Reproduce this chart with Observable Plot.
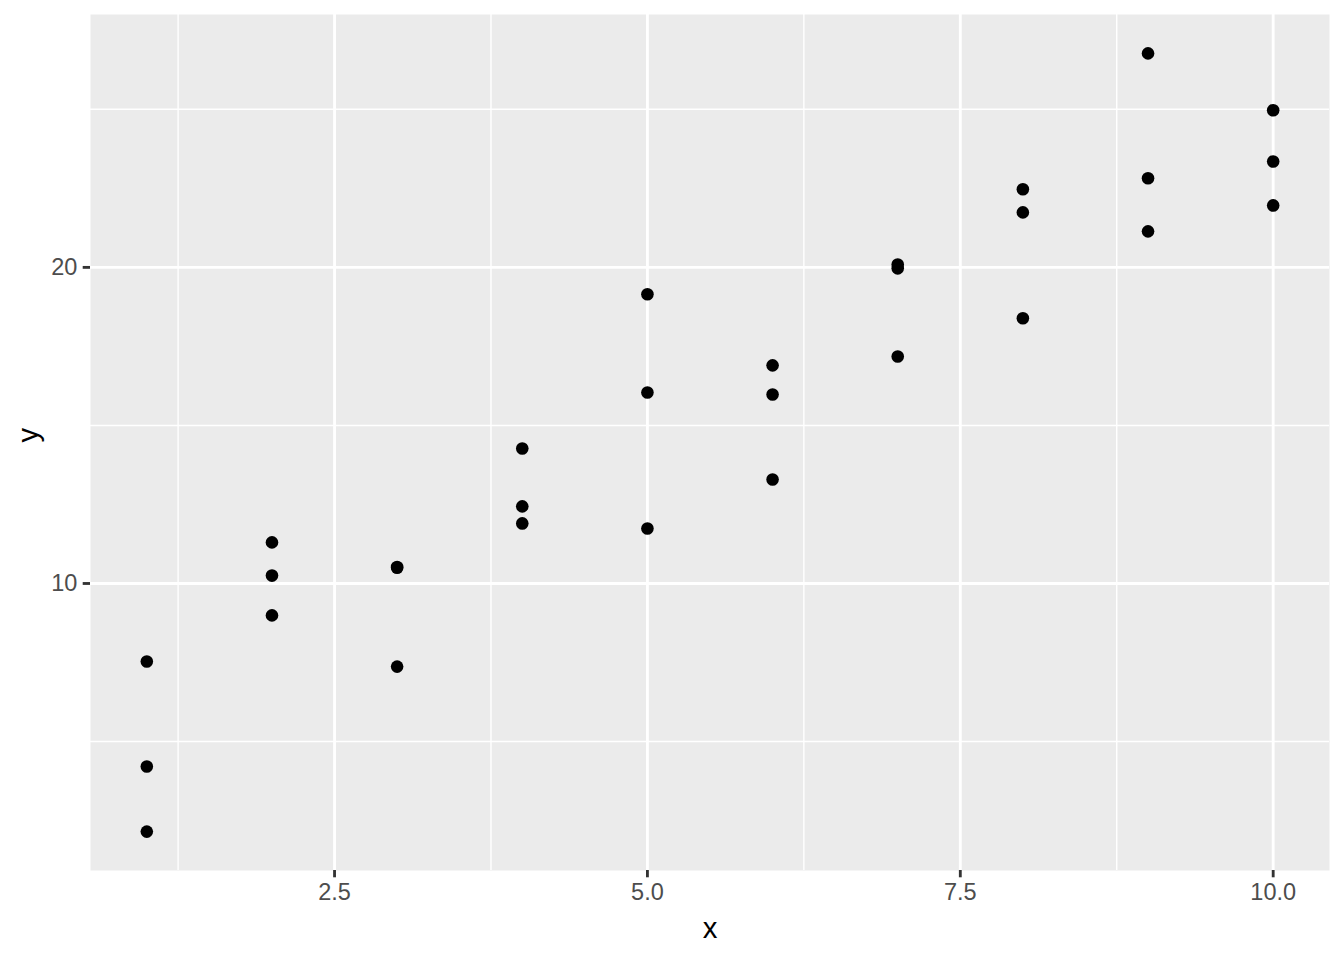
<!DOCTYPE html>
<html>
<head>
<meta charset="utf-8">
<script src="https://cdn.jsdelivr.net/npm/d3@7"></script>
<script src="https://cdn.jsdelivr.net/npm/@observablehq/plot@0.6"></script>
<style>
  html, body { margin: 0; padding: 0; background: #ffffff; }
  #chart { width: 1344px; height: 960px; }
</style>
</head>
<body>
<div id="chart"></div>
<script>
const xValues = [1,1,1, 2,2,2, 3,3,3, 4,4,4, 5,5,5, 6,6,6, 7,7,7, 8,8,8, 9,9,9, 10,10,10];
const yValues = [7.53,4.21,2.15, 11.30,10.25,8.99, 10.52,10.50,7.37, 14.27,12.44,11.90,
                 19.15,16.04,11.74, 16.90,15.98,13.29, 20.09,19.97,17.18,
                 22.47,21.74,18.39, 26.77,22.82,21.14, 24.97,23.35,21.96];
const xMajor = [2.5, 5, 7.5, 10];
const xMinor = [1.25, 3.75, 6.25, 8.75];
const yMajor = [10, 20];
const yMinor = [5, 15, 25];
const xDomain = [0.55, 10.45];
const yDomain = [0.92, 28.0];

const points = xValues.map((x, i) => ({x, y: yValues[i]}));
const font = "'Liberation Sans', Arial, Helvetica, sans-serif";

const chart = Plot.plot({
  width: 1344,
  height: 960,
  marginLeft: 90,
  marginRight: 15,
  marginTop: 14,
  marginBottom: 90,
  style: {fontFamily: font, background: "#ffffff", overflow: "visible"},
  x: {domain: xDomain, label: null},
  y: {domain: yDomain, label: null},
  marks: [
    Plot.frame({fill: "#EBEBEB", stroke: null}),
    Plot.ruleX(xMinor, {x: d => d, stroke: "#ffffff", strokeWidth: 1.42}),
    Plot.ruleY(yMinor, {y: d => d, stroke: "#ffffff", strokeWidth: 1.42}),
    Plot.ruleX(xMajor, {x: d => d, stroke: "#ffffff", strokeWidth: 2.84}),
    Plot.ruleY(yMajor, {y: d => d, stroke: "#ffffff", strokeWidth: 2.84}),
    Plot.axisX({ticks: xMajor, tickFormat: d => d.toFixed(1), tickSize: 7.3, tickPadding: 5.9,
      stroke: "#333333", strokeWidth: 2.84, fill: "#4D4D4D", fontSize: 23.5, label: null}),
    Plot.axisY({ticks: yMajor, tickFormat: d => String(d), tickSize: 7.3, tickPadding: 5.9,
      stroke: "#333333", strokeWidth: 2.84, fill: "#4D4D4D", fontSize: 23.5, label: null}),
    Plot.dot(points, {x: "x", y: "y", r: 6.3, fill: "#000000", stroke: null}),
    Plot.text(["x"], {frameAnchor: "bottom", dy: 58, text: d => d, fontSize: 29.3, fill: "#000000", lineAnchor: "middle"}),
    Plot.text(["y"], {frameAnchor: "left", dx: -61.5, rotate: -90, text: d => d, fontSize: 29.3, fill: "#000000", lineAnchor: "middle"})
  ]
});
document.getElementById("chart").appendChild(chart);
</script>
</body>
</html>
